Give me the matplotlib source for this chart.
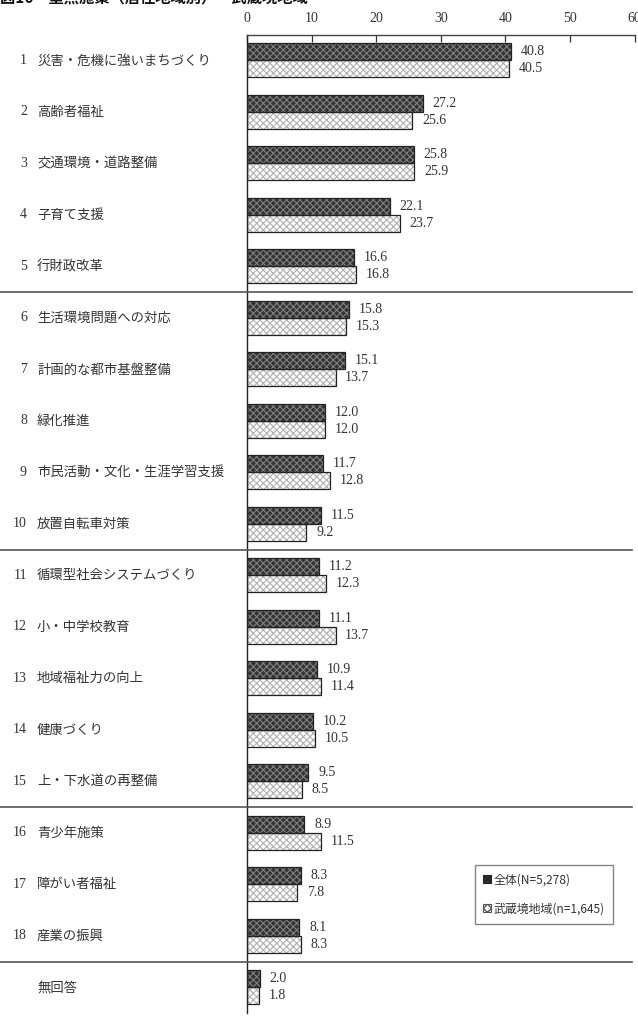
import matplotlib
matplotlib.use("Agg")
import matplotlib.pyplot as plt
from matplotlib.patches import Patch
from matplotlib.lines import Line2D

# ---- data ----
numbers = ["1", "2", "3", "4", "5", "6", "7", "8", "9", "10",
           "11", "12", "13", "14", "15", "16", "17", "18", ""]
categories = ["災害・危機に強いまちづくり", "高齢者福祉", "交通環境・道路整備", "子育て支援",
              "行財政改革", "生活環境問題への対応", "計画的な都市基盤整備", "緑化推進",
              "市民活動・文化・生涯学習支援", "放置自転車対策", "循環型社会システムづくり",
              "小・中学校教育", "地域福祉力の向上", "健康づくり", "上・下水道の再整備",
              "青少年施策", "障がい者福祉", "産業の振興", "無回答"]
total = [40.8, 27.2, 25.8, 22.1, 16.6, 15.8, 15.1, 12.0, 11.7, 11.5,
         11.2, 11.1, 10.9, 10.2, 9.5, 8.9, 8.3, 8.1, 2.0]
musashisakai = [40.5, 25.6, 25.9, 23.7, 16.8, 15.3, 13.7, 12.0, 12.8, 9.2,
                12.3, 13.7, 11.4, 10.5, 8.5, 11.5, 7.8, 8.3, 1.8]
series_names = ["全体(N=5,278)", "武蔵境地域(n=1,645)"]
xticks = [0, 10, 20, 30, 40, 50, 60]
title = "図16　重点施策（居住地域別）－武蔵境地域"
separators_after = [5, 10, 15, 18]

JP = ["Noto Sans CJK JP", "DejaVu Sans"]
NUM = ["Liberation Serif", "DejaVu Serif"]

W, H = 638, 1019
fig = plt.figure(figsize=(W / 100, H / 100), dpi=100)

ax_left, ax_right = 247 / W, 634.6 / W
ax_top, ax_bot = 34.7 / H, 1013 / H
ax = fig.add_axes([ax_left, 1 - ax_bot, ax_right - ax_left, ax_bot - ax_top])

n = len(categories)
ys = list(range(n))
bh = 0.33
dark_face, dark_hatch = "#333333", "#808080"
light_face, light_hatch = "#ffffff", "#b0b0b0"

with plt.rc_context({"hatch.linewidth": 0.8}):
    ax.barh([y - bh / 2 for y in ys], total, height=bh, color=dark_face,
            edgecolor=dark_hatch, hatch="xxxxx", linewidth=0)
    ax.barh([y + bh / 2 for y in ys], musashisakai, height=bh, color=light_face,
            edgecolor=light_hatch, hatch="xxxxx", linewidth=0)
ax.barh([y - bh / 2 for y in ys], total, height=bh, fill=False,
        edgecolor="#222222", linewidth=0.9)
ax.barh([y + bh / 2 for y in ys], musashisakai, height=bh, fill=False,
        edgecolor="#222222", linewidth=0.9)

for y, a, b in zip(ys, total, musashisakai):
    ax.annotate(f"{a:.1f}", (a, y - bh / 2), xytext=(7, 0), textcoords="offset points",
                va="center", ha="left", fontsize=10, family=NUM, color="#333333")
    ax.annotate(f"{b:.1f}", (b, y + bh / 2), xytext=(7, 0), textcoords="offset points",
                va="center", ha="left", fontsize=10, family=NUM, color="#333333")

ax.set_xlim(0, 60)
ax.set_ylim(n - 0.5, -0.5)
ax.set_xticks(xticks)
ax.set_xticklabels([str(t) for t in xticks], family=NUM, fontsize=10, color="#333333")
ax.xaxis.tick_top()
ax.tick_params(axis="x", direction="in", length=5, width=0.9, pad=7, color="#333333")
ax.set_yticks([])
for s in ["right", "bottom"]:
    ax.spines[s].set_visible(False)
ax.spines["top"].set_color("#444444")
ax.spines["left"].set_color("#222222")
ax.spines["top"].set_linewidth(1.0)
ax.spines["left"].set_linewidth(1.0)

# category labels
for y, num, cat in zip(ys, numbers, categories):
    yf = 1 - (ax_top + (y + 0.5) / n * (ax_bot - ax_top))
    if num:
        fig.text(27 / W, yf, num, ha="right", va="center", fontsize=10, family=NUM,
                 color="#333333")
    fig.text(37 / W, yf, cat, ha="left", va="center", fontsize=9.6, family=JP,
             color="#333333")

# separator lines
for k in separators_after:
    yf = 1 - (ax_top + k / n * (ax_bot - ax_top))
    fig.add_artist(Line2D([0, 632 / W], [yf, yf], transform=fig.transFigure,
                          color="#555555", linewidth=1.2))

# title (clipped at top, as in the source)
fig.text(0.0, 1 - 2.5 / H, title, ha="left", va="baseline", fontsize=11,
         fontweight="bold", family=JP, color="#111111")

# legend
with plt.rc_context({"hatch.linewidth": 0.6}):
    handles = [Patch(facecolor=dark_face, edgecolor="#222222", hatch="xxxx", linewidth=0.8),
               Patch(facecolor=light_face, edgecolor="#555555", hatch="xxxx", linewidth=0.8)]
leg = fig.legend(handles, series_names, loc="upper left",
                 bbox_to_anchor=(475 / W, 1 - 865 / H), prop={"family": JP, "size": 8.6},
                 frameon=True, fancybox=False, edgecolor="#666666", handlelength=0.6,
                 handleheight=0.6, handletextpad=0.25, labelspacing=1.35,
                 borderpad=0.7, borderaxespad=0)
leg.get_frame().set_linewidth(1.0)
for t in leg.get_texts():
    t.set_color("#333333")

fig.savefig("out.png", dpi=100)
